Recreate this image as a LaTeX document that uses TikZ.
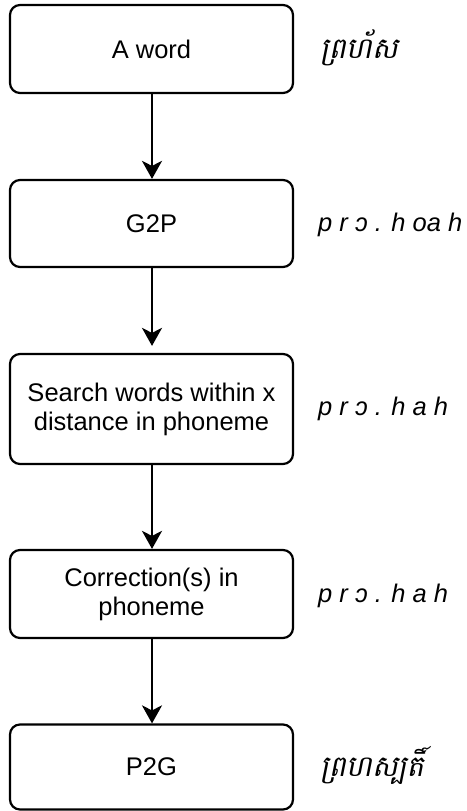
\documentclass[tikz,border=0pt]{standalone}
\usepackage{fontspec}
\setmainfont{Liberation Sans}
\newfontfamily\khmerfont[Script=Khmer,FakeSlant=0.2]{Battambang}
\usetikzlibrary{arrows.meta}
\begin{document}
\begin{tikzpicture}[x=1pt,y=-1pt,
  stepbox/.style={draw=black,line width=2.2pt,rounded corners=10pt,minimum width=283pt,inner sep=0pt,align=center,font=\fontsize{25.5}{29}\selectfont},
  flow/.style={line width=2.2pt,-{Stealth[length=18pt,width=20pt,inset=5pt]}},
  phon/.style={anchor=west,inner sep=0pt,font=\fontsize{25.5}{29}\selectfont\itshape},
  khm/.style={anchor=west,inner sep=0pt,font=\fontsize{29}{33}\selectfont\khmerfont}]
\useasboundingbox (0,0) rectangle (466,811);
\node[stepbox,minimum height=88pt] (b1) at (151.5,49) {A word};
\node[stepbox,minimum height=87pt] (b2) at (151.5,223.5) {G2P};
\node[stepbox,minimum height=110pt] (b3) at (151.5,409) {Search words within x\\distance in phoneme};
\node[stepbox,minimum height=88pt] (b4) at (151.5,594) {Correction(s) in\\phoneme};
\node[stepbox,minimum height=85pt] (b5) at (151.5,767) {P2G};
\draw[flow] (b1.south -| 152,0) -- (b2.north -| 152,0);
\draw[flow,shorten >=7pt] (b2.south -| 152,0) -- (b3.north -| 152,0);
\draw[flow] (b3.south -| 152,0) -- (b4.north -| 152,0);
\draw[flow] (b4.south -| 152,0) -- (b5.north -| 152,0);
\node[khm] (l1) at (320,48) {ព្រហ័ស};
\node[phon] (l2) at (318,225) {p r ɔ . h oa h};
\node[phon] (l3) at (318,409) {p r ɔ . h a h};
\node[phon] (l4) at (318,596) {p r ɔ . h a h};
\node[khm] (l5) at (320,765) {ព្រហស្បតិ៍};
\end{tikzpicture}
\end{document}
